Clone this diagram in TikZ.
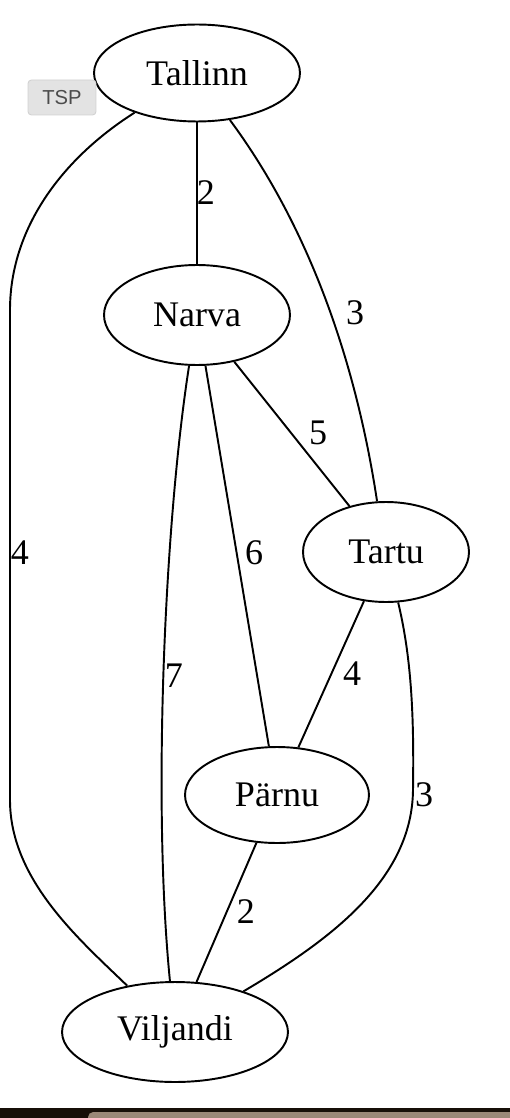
\documentclass[tikz,border=0pt]{standalone}
\usepackage{fontspec}
\setmainfont{Liberation Serif}
\newfontfamily\btnfont{Liberation Sans}
\usepackage{tikz}
\usetikzlibrary{shapes.geometric}

\begin{document}
\begin{tikzpicture}[x=0.02cm,y=-0.02cm,line width=1.1pt,
  city/.style={draw,ellipse,inner sep=0pt,font=\fontsize{20.5}{24}\selectfont},
  wt/.style={inner sep=0pt,font=\fontsize{20.5}{24}\selectfont}]

\useasboundingbox (0,0) rectangle (510,1118);

\node[city,minimum width=4.12cm,minimum height=1.94cm] (tal) at (197,73) {Tallinn};
\node[city,minimum width=3.72cm,minimum height=2.0cm] (nar) at (197,315) {Narva};
\node[city,minimum width=3.32cm,minimum height=2.0cm] (tar) at (386,552) {Tartu};
\node[city,minimum width=3.68cm,minimum height=1.92cm] (par) at (277,795) {Pärnu};
\node[city,minimum width=4.52cm,minimum height=2.0cm] (vil) at (175,1032) {Viljandi};

\draw (tal) -- (nar);
\draw (tal.-55) .. controls (315,235) and (358,375) .. (tar.100);
\draw (tal) .. controls (60,160) and (10,230) .. (10,310) -- (10,800)
  .. controls (10,880) and (80,940) .. (vil);
\draw (nar) -- (tar);
\draw (nar) -- (par);
\draw (nar) .. controls (165,520) and (152,800) .. (vil);
\draw (tar) -- (par);
\draw (tar) .. controls (412,660) and (414,720) .. (413,790)
  .. controls (412,880) and (330,940) .. (vil);
\draw (par) -- (vil);

\node[wt] (w1) at (206,193) {2};
\node[wt] (w2) at (355,313) {3};
\node[wt] (w3) at (20,553) {4};
\node[wt] (w4) at (318,433) {5};
\node[wt] (w5) at (254,553) {6};
\node[wt] (w6) at (174,676) {7};
\node[wt] (w7) at (352,674) {4};
\node[wt] (w8) at (424,795) {3};
\node[wt] (w9) at (246,912) {2};

% button in the corner
\node[draw=black!18,fill=black!11,rounded corners=2pt,line width=0.5pt,
  minimum width=1.36cm,minimum height=0.7cm,text=black!70,
  font=\btnfont\fontsize{11.5}{13}\selectfont] (tsp) at (62,97.5) {TSP};

% bottom strip
\fill[black!88!brown] (0,1108) rectangle (510,1118);
\fill[black!55!brown!60!white,rounded corners=3pt] (88,1112) rectangle (520,1125);

\end{tikzpicture}
\end{document}
